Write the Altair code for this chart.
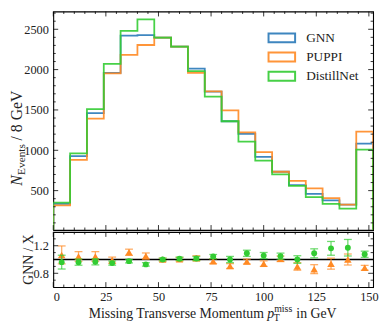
import altair as alt
import pandas as pd

# ---------------- data ----------------
edges = list(range(0, 153, 8))            # bin edges 0..152 GeV
centers = [e + 4 for e in edges[:-1]]     # bin centres

names = ["GNN", "PUPPI", "DistillNet"]
colors = ["#2a7ab9", "#ff8a24", "#33cc33"]

gnn = [337, 929, 1462, 1960, 2420, 2427, 2396, 2286, 2013, 1726, 1360, 1202, 917, 734, 569, 459, 378, 325, 1082]
puppi = [317, 881, 1392, 1952, 2184, 2305, 2396, 2286, 1961, 1730, 1494, 1222, 978, 734, 621, 527, 406, 325, 1232]
distill = [350, 962, 1510, 2070, 2481, 2622, 2396, 2286, 1982, 1665, 1360, 1108, 873, 700, 560, 418, 337, 276, 1009]

ratio_puppi = [1.067, 1.044, 1.044, 0.99, 1.105, 1.05, 1.0, 1.005, 1.02, 0.976, 0.905, 0.97, 0.94, 1.01, 0.9, 0.86, 0.94, 1.0, 0.88]
err_puppi = [0.13, 0.07, 0.07, 0.045, 0.045, 0.045, 0.02, 0.025, 0.035, 0.035, 0.035, 0.035, 0.04, 0.04, 0.055, 0.065, 0.08, 0.08, 0.035]
ratio_distill = [0.962, 0.962, 0.967, 0.948, 0.976, 0.929, 1.0, 1.01, 1.014, 1.043, 1.0, 1.09, 1.057, 1.048, 1.0, 1.09, 1.162, 1.171, 1.076]
err_distill = [0.1, 0.045, 0.045, 0.03, 0.025, 0.025, 0.02, 0.025, 0.03, 0.03, 0.045, 0.045, 0.045, 0.045, 0.055, 0.065, 0.1, 0.12, 0.045]

x_major = [0, 25, 50, 75, 100, 125, 150]
x_minor = [v for v in range(5, 151, 5) if v % 25]
y_major = [500, 1000, 1500, 2000, 2500]
y_minor = [v for v in range(100, 2701, 100) if v % 500]
r_major = [0.8, 1.2]
r_minor = [0.7, 0.9, 1.0, 1.1, 1.3]

# ---------------- layout ----------------
W = 325
H1 = 222
H2 = 56
FONT = "Liberation Serif"
TXT = "#222222"
LEFT = 43.5   # room left of the plot frame

xscale = alt.Scale(domain=[0, 152], nice=False, zero=False)
yscale = alt.Scale(domain=[12, 2720], nice=False, zero=False)
rscale = alt.Scale(domain=[0.6, 1.4], nice=False, zero=False)

x_axis_top = alt.Axis(title=None, labels=False, ticks=False, domain=False, grid=False)
x_axis_bot = alt.Axis(title=None, values=x_major, format="d", ticks=False, tickSize=0, domain=False, grid=False,
                      labelPadding=4, labelFont=FONT, labelFontSize=12.5, labelColor=TXT)
y_axis_top = alt.Axis(title=None, values=y_major, format="d", ticks=False, tickSize=0, domain=False, grid=False,
                      labelPadding=5, labelFont=FONT, labelFontSize=12.5, labelColor=TXT)
y_axis_bot = alt.Axis(title=None, values=r_major, format=".1f", ticks=False, tickSize=0, domain=False,
                      grid=False, labelPadding=5, labelFont=FONT, labelFontSize=12.5, labelColor=TXT)


def step_rows(name, vals):
    xs = [0] + edges[:-1] + [152, 152]
    ys = [0] + vals + [vals[-1], 0]
    return [{"series": name, "x": x, "y": y, "i": i} for i, (x, y) in enumerate(zip(xs, ys))]


rows = step_rows("GNN", gnn) + step_rows("PUPPI", puppi) + step_rows("DistillNet", distill)
hist_df = pd.DataFrame(rows)


def tick_layers(xaxis, yaxis, ysc, h, ymaj, ymin):
    layers = []
    for vals, ln in ((x_major, 5), (x_minor, 2.5)):
        d = pd.DataFrame({"v": vals})
        layers.append(alt.Chart(d).mark_rule(color="black", strokeWidth=0.8).encode(
            x=alt.X("v:Q", scale=xscale, axis=xaxis), y=alt.value(h), y2=alt.value(h - ln)))
        layers.append(alt.Chart(d).mark_rule(color="black", strokeWidth=0.8).encode(
            x=alt.X("v:Q", scale=xscale, axis=xaxis), y=alt.value(0), y2=alt.value(ln)))
    for vals, ln in ((ymaj, 5), (ymin, 2.5)):
        d = pd.DataFrame({"v": vals})
        layers.append(alt.Chart(d).mark_rule(color="black", strokeWidth=0.8).encode(
            y=alt.Y("v:Q", scale=ysc, axis=yaxis), x=alt.value(0), x2=alt.value(ln)))
        layers.append(alt.Chart(d).mark_rule(color="black", strokeWidth=0.8).encode(
            y=alt.Y("v:Q", scale=ysc, axis=yaxis), x=alt.value(W), x2=alt.value(W - ln)))
    return layers


one = pd.DataFrame({"a": [0]})


def label(text, x, y, size=14, angle=0, align="left", style="normal", baseline="alphabetic"):
    return alt.Chart(one).mark_text(text=text, font=FONT, fontSize=size, angle=angle, align=align,
                                    baseline=baseline, fontStyle=style, color=TXT).encode(
        x=alt.value(x), y=alt.value(y))


# invisible anchor that fixes the left edge of the layout
anchor = alt.Chart(one).mark_rule(color="white", opacity=0, strokeWidth=0.01).encode(
    x=alt.value(-LEFT), x2=alt.value(-LEFT + 1), y=alt.value(100))

# ---------------- top panel ----------------
hist = alt.Chart(hist_df).mark_line(interpolate="step-after", strokeWidth=1.8, opacity=0.9, clip=True).encode(
    x=alt.X("x:Q", scale=xscale, axis=x_axis_top),
    y=alt.Y("y:Q", scale=yscale, axis=y_axis_top),
    color=alt.Color("series:N", scale=alt.Scale(domain=names, range=colors),
                    legend=alt.Legend(title=None, orient="none", legendX=225.5, legendY=20,
                                      symbolType="M-3,-1H3V1H-3Z", symbolSize=81, symbolStrokeWidth=2,
                                      labelFont=FONT, labelFontSize=13.5, labelColor=TXT,
                                      labelOffset=18, rowPadding=1.5, padding=0)),
    order="i:Q",
    detail="series:N",
)

ytitle_x = -31.5
top_titles = [
    label("N", ytitle_x, 177, size=16, angle=270, style="italic"),
    label("Events", ytitle_x + 2.5, 166, size=11.5, angle=270),
    label("/ 8 GeV", ytitle_x, 131, size=16, angle=270),
]

top = alt.layer(hist, *tick_layers(x_axis_top, y_axis_top, yscale, H1, y_major, y_minor), *top_titles,
                anchor).properties(width=W, height=H1)

# ---------------- ratio panel ----------------
rp = pd.DataFrame({"x": centers, "r": ratio_puppi,
                   "lo": [r - e for r, e in zip(ratio_puppi, err_puppi)],
                   "hi": [r + e for r, e in zip(ratio_puppi, err_puppi)]})
rd = pd.DataFrame({"x": centers, "r": ratio_distill,
                   "lo": [r - e for r, e in zip(ratio_distill, err_distill)],
                   "hi": [r + e for r, e in zip(ratio_distill, err_distill)]})


def ratio_layers(df, col, shape, size):
    xenc = alt.X("x:Q", scale=xscale, axis=x_axis_bot)
    bar = alt.Chart(df).mark_rule(color=col, strokeWidth=1.3, opacity=0.7).encode(
        x=xenc, y=alt.Y("lo:Q", scale=rscale, axis=y_axis_bot), y2="hi:Q")
    cap_lo = alt.Chart(df).mark_tick(color=col, orient="horizontal", size=8, thickness=1.3, opacity=0.7).encode(
        x=xenc, y=alt.Y("lo:Q", scale=rscale, axis=y_axis_bot))
    cap_hi = alt.Chart(df).mark_tick(color=col, orient="horizontal", size=8, thickness=1.3, opacity=0.7).encode(
        x=xenc, y=alt.Y("hi:Q", scale=rscale, axis=y_axis_bot))
    pts = alt.Chart(df).mark_point(shape=shape, filled=True, size=size, color=col, opacity=1).encode(
        x=xenc, y=alt.Y("r:Q", scale=rscale, axis=y_axis_bot))
    return [bar, cap_lo, cap_hi, pts]


unity = alt.Chart(one).mark_rule(color="black", strokeWidth=1.5).encode(
    y=alt.datum(1.0, scale=rscale))

xt_y = 87
bot_titles = [
    label("Missing Transverse Momentum", 214, xt_y, size=14, align="right"),
    label("p", 217.5, xt_y, size=14, style="italic"),
    label("T", 224, xt_y + 3.5, size=10),
    label("miss", 224.5, xt_y - 6, size=10),
    label("in GeV", 247, xt_y, size=14),
    label("GNN / X", -20.5, H2 / 2, size=14, angle=270, align="center"),
]

bottom = alt.layer(unity, *ratio_layers(rp, colors[1], "triangle-up", 58),
                   *ratio_layers(rd, colors[2], "circle", 36),
                   *tick_layers(x_axis_bot, y_axis_bot, rscale, H2, r_major, r_minor),
                   *bot_titles).properties(width=W, height=H2)

chart = alt.vconcat(top, bottom, spacing=0).properties(
    padding=0,
).configure_view(stroke="black", strokeWidth=1.1).configure_concat(spacing=0)

chart.save("out.html", embed_options={"renderer": "svg", "actions": False})
